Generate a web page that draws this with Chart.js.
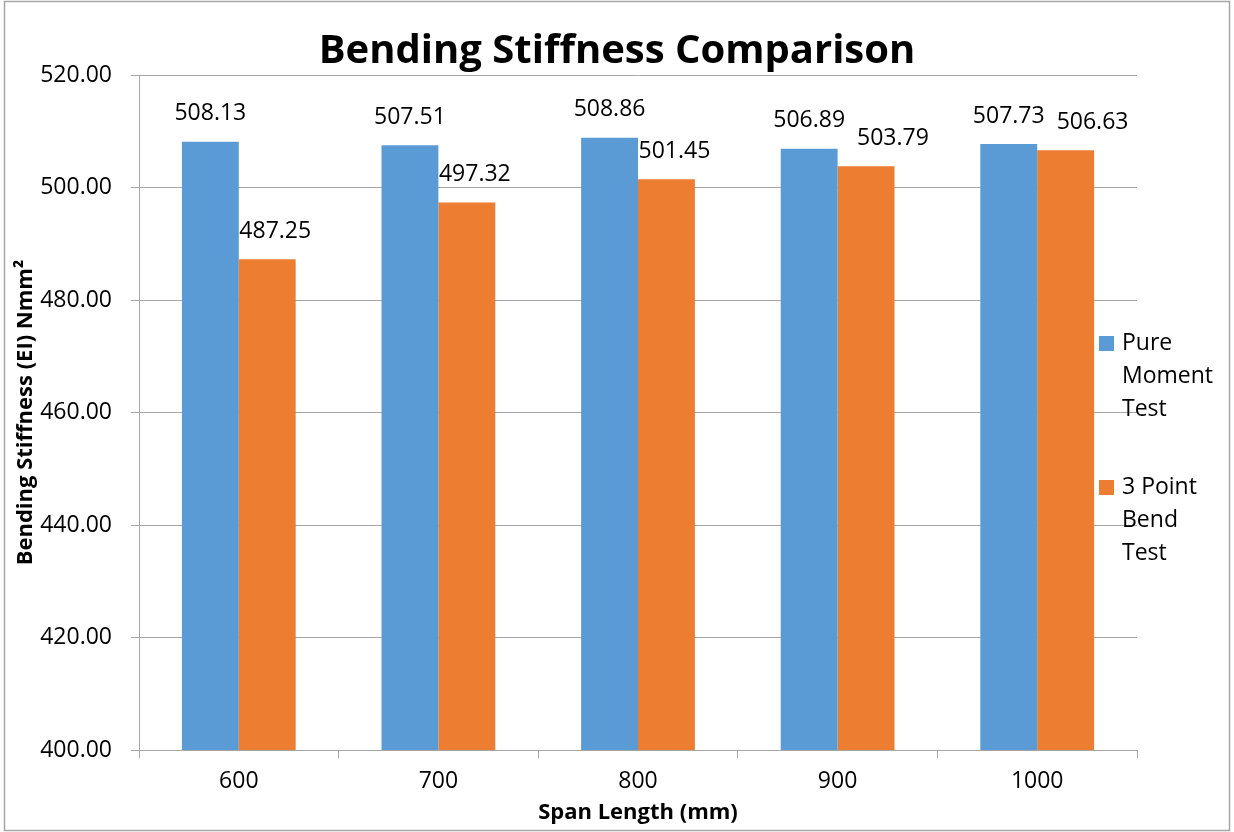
<!DOCTYPE html>
<html>
<head>
<meta charset="utf-8">
<script src="https://cdn.jsdelivr.net/npm/chart.js@4"></script>
<style>
  html, body { margin: 0; padding: 0; background: #fff; }
</style>
</head>
<body>
<canvas id="myChart" width="1234" height="832"></canvas>
<script>
const spans = ["600", "700", "800", "900", "1000"];
const pureMoment = [508.13, 507.51, 508.86, 506.89, 507.73];
const threePoint = [487.25, 497.32, 501.45, 503.79, 506.63];
const seriesNames = ["Pure Moment Test", "3 Point Bend Test"];
const yMin = 400, yMax = 520, yStep = 20;

const FONT = "'Open Sans', sans-serif";
const gray = "#a6a6a6";

// white page + thin grey frame round the whole picture
const frame = {
  id: "frame",
  beforeDraw(chart) {
    const c = chart.ctx;
    c.save();
    c.fillStyle = "#fff";
    c.fillRect(0, 0, chart.width, chart.height);
    c.strokeStyle = gray;
    c.lineWidth = 1.5;
    c.strokeRect(4.5, 1.5, 1225, 829);
    c.restore();
  }
};

// value labels above bars
const valueLabels = {
  id: "valueLabels",
  afterDatasetsDraw(chart) {
    const c = chart.ctx;
    c.save();
    c.font = "23px " + FONT;
    c.fillStyle = "#000";
    c.textAlign = "center";
    c.textBaseline = "middle";
    const blue = chart.getDatasetMeta(0).data;
    const orange = chart.getDatasetMeta(1).data;
    blue.forEach((bar, i) => {
      const t = chart.data.datasets[0].data[i].toFixed(2);
      const bx = bar.x, by = bar.y - 28;
      c.fillText(t, bx, by);
      const o = orange[i];
      const t2 = chart.data.datasets[1].data[i].toFixed(2);
      let ox = o.x + 8, oy = o.y - 28;
      const w1 = c.measureText(t).width, w2 = c.measureText(t2).width;
      // push right if it would run into the blue label
      if (Math.abs(oy - by) < 30 && ox - w2 / 2 < bx + w1 / 2 + 12) {
        ox = bx + w1 / 2 + 12 + w2 / 2;
      }
      c.fillText(t2, ox, oy);
    });
    c.restore();
  }
};

function wrapText(c, text, maxW) {
  const words = text.split(" ");
  const lines = [];
  let cur = "";
  words.forEach(w => {
    const test = cur ? cur + " " + w : w;
    if (cur && c.measureText(test).width > maxW) {
      lines.push(cur);
      cur = w;
    } else {
      cur = test;
    }
  });
  if (cur) lines.push(cur);
  return lines;
}

// legend on the right with wrapped labels
const sideLegend = {
  id: "sideLegend",
  afterDraw(chart) {
    const c = chart.ctx;
    const area = chart.chartArea;
    c.save();
    c.font = "23px " + FONT;
    c.textBaseline = "middle";
    c.textAlign = "left";
    const boxX = area.right - 38, textX = area.right - 15;
    const maxW = chart.width - textX - 10;
    let y = 343;
    chart.data.datasets.forEach(ds => {
      const lines = wrapText(c, ds.label, maxW);
      c.fillStyle = ds.backgroundColor;
      c.fillRect(boxX, y - 7, 15, 15);
      c.fillStyle = "#000";
      lines.forEach((ln, k) => c.fillText(ln, textX, y + k * 33));
      y += 144;
    });
    c.restore();
  }
};

const myChart = new Chart("myChart", {
  type: "bar",
  data: {
    labels: spans,
    datasets: [
      { label: seriesNames[0], data: pureMoment, backgroundColor: "#5b9bd5" },
      { label: seriesNames[1], data: threePoint, backgroundColor: "#ed7d31" }
    ]
  },
  options: {
    responsive: false,
    animation: false,
    devicePixelRatio: 1,
    layout: { padding: 0 },
    datasets: {
      bar: { categoryPercentage: 0.57, barPercentage: 1.0 }
    },
    plugins: {
      legend: { display: false },
      tooltip: { enabled: false },
      title: {
        display: true,
        text: "Bending Stiffness Comparison",
        color: "#000",
        font: { family: FONT, size: 40, weight: "bold", lineHeight: 1.0 },
        padding: { top: 32, bottom: 3 }
      }
    },
    scales: {
      x: {
        grid: { drawOnChartArea: false, tickLength: 8, color: gray },
        border: { color: gray },
        ticks: { color: "#000", font: { family: FONT, size: 23 }, padding: 10 },
        title: {
          display: true,
          text: "Span Length (mm)",
          color: "#000",
          font: { family: FONT, size: 22, weight: "bold" },
          padding: { top: 0, bottom: 6 }
        },
        afterFit(s) { s.height = 82; }
      },
      y: {
        min: yMin,
        max: yMax,
        ticks: {
          stepSize: yStep,
          color: "#000",
          font: { family: FONT, size: 23 },
          padding: 19,
          callback: v => v.toFixed(2)
        },
        grid: { color: gray, tickLength: 8 },
        border: { color: gray },
        title: {
          display: true,
          text: "Bending Stiffness (EI) Nmm²",
          color: "#000",
          font: { family: FONT, size: 22, weight: "bold" },
          padding: { top: 13, bottom: 0 }
        },
        afterFit(s) { s.width = 139; }
      },
      side: {
        position: "right",
        display: true,
        grid: { display: false },
        ticks: { display: false },
        border: { display: false },
        afterFit(s) { s.width = 97; }
      }
    }
  },
  plugins: [frame, valueLabels, sideLegend]
});
</script>
</body>
</html>
